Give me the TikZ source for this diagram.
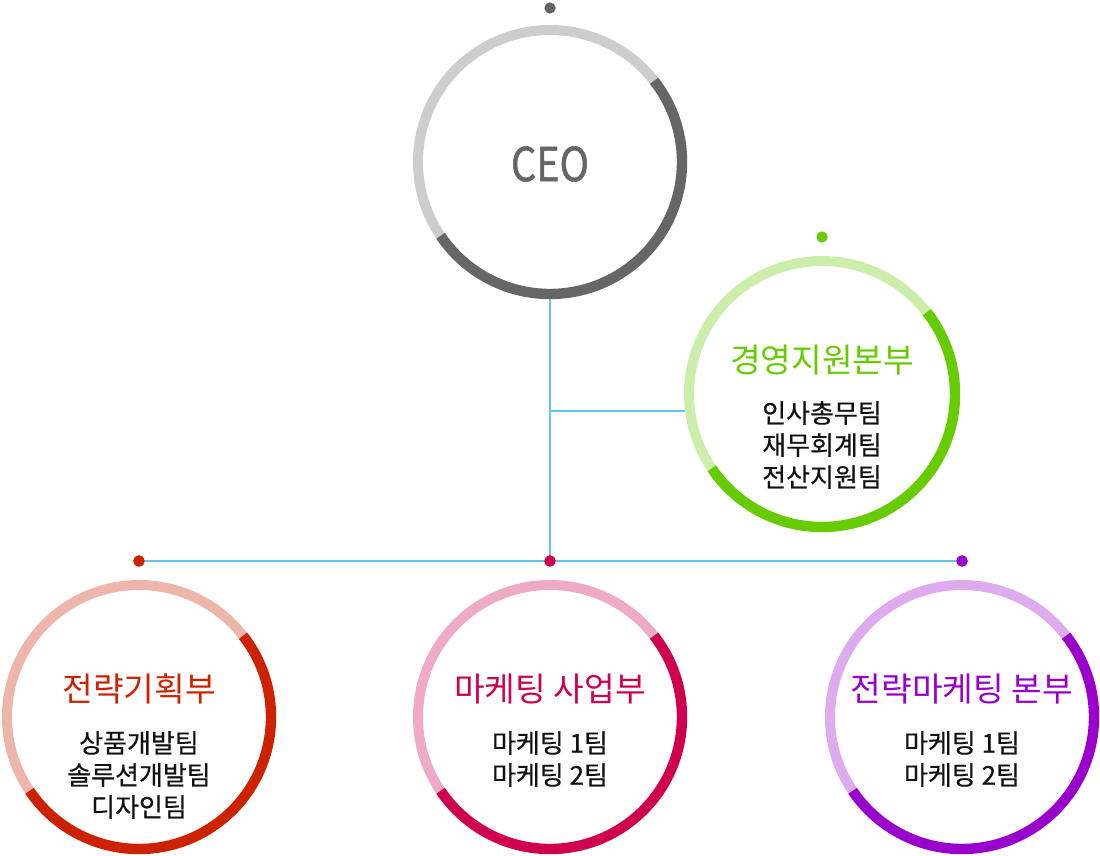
\documentclass[tikz,border=0pt]{standalone}
\usepackage{fontspec}
\setmainfont{Noto Sans CJK KR}
\newfontfamily\ceofont{Noto Sans CJK KR}[FakeBold=1.2]
\newfontfamily\subfont{Noto Sans CJK KR}[FakeBold=0.4]
\definecolor{cgray}{HTML}{666666}
\definecolor{cgreen}{HTML}{66CC00}
\definecolor{cred}{HTML}{CC2200}
\definecolor{ccrim}{HTML}{D00050}
\definecolor{cpurp}{HTML}{9900CC}
\definecolor{cline}{HTML}{62C4F2}
\definecolor{ctext}{HTML}{111111}
\tikzset{
  ringnode/.style={circle, minimum size=205.5pt, inner sep=0pt},
  dotnode/.style={circle, minimum size=8.5pt, inner sep=0pt, fill=#1},
  solidarc/.style={draw=#1, line width=7.8pt},
  lightarc/.style={draw=#1!33, line width=7.5pt},
  conn/.style={draw=cline, line width=1.5pt},
  ttl/.style={font=\fontsize{25pt}{30pt}\selectfont, text=#1},
  sub/.style={font=\subfont\fontsize{19.5pt}{24pt}\selectfont, text=ctext, align=center},
}
\newcommand{\myring}[3]{% center name, color, radius
  \draw[lightarc=#2] ([shift={(146:#3)}]#1) arc[start angle=146, end angle=322, radius=#3];
  \draw[solidarc=#2] ([shift={(-38:#3)}]#1) arc[start angle=-38, end angle=146, radius=#3];
}
\begin{document}
\begin{tikzpicture}[x=0.75pt,y=-0.75pt]
\useasboundingbox (0,0) rectangle (1100,856);
% ring nodes
\node[ringnode] (ceo) at (550,162) {};
\node[ringnode] (grn) at (822,394) {};
\node[ringnode] (red) at (139,717) {};
\node[ringnode] (mid) at (550,717) {};
\node[ringnode] (pur) at (962,717) {};
% dots
\node[dotnode=cgray] (dceo) at (550,8) {};
\node[dotnode=cgreen] (dgrn) at (822,237) {};
% connectors
\coordinate (jn) at (550,561);
\draw[conn] (ceo.south) -- (jn);
\draw[conn] (ceo.south |- grn.187) -- (grn.187);
\node[dotnode=cred] (dred) at (139,561) {};
\node[dotnode=ccrim] (dmid) at (550,561) {};
\node[dotnode=cpurp] (dpur) at (962,561) {};
\draw[conn] (dred) -- (dmid);
\draw[conn] (dmid) -- (dpur);
\node[dotnode=cred] at (dred) {};
\node[dotnode=ccrim] at (dmid) {};
\node[dotnode=cpurp] at (dpur) {};
% rings
\myring{ceo}{cgray}{132}
\myring{grn}{cgreen}{133}
\myring{red}{cred}{132}
\myring{mid}{ccrim}{132}
\myring{pur}{cpurp}{132}
% texts
\node[font=\ceofont\fontsize{35pt}{38pt}\selectfont, text=cgray] (tceo) at (550,164) {\scalebox{0.85}[1]{CEO}};
\node[ttl=cgreen] (tgrn) at (822,360) {경영지원본부};
\node[sub] (sgrn) at (822,445) {인사총무팀\\재무회계팀\\전산지원팀};
\node[ttl=cred] (tred) at (139,689) {전략기획부};
\node[sub] (sred) at (139,775) {상품개발팀\\솔루션개발팀\\디자인팀};
\node[ttl=ccrim] (tmid) at (550,689) {마케팅 사업부};
\node[sub] (smid) at (550,759) {마케팅 1팀\\마케팅 2팀};
\node[ttl=cpurp] (tpur) at (962,689) {전략마케팅 본부};
\node[sub] (spur) at (962,759) {마케팅 1팀\\마케팅 2팀};
\end{tikzpicture}
\end{document}
